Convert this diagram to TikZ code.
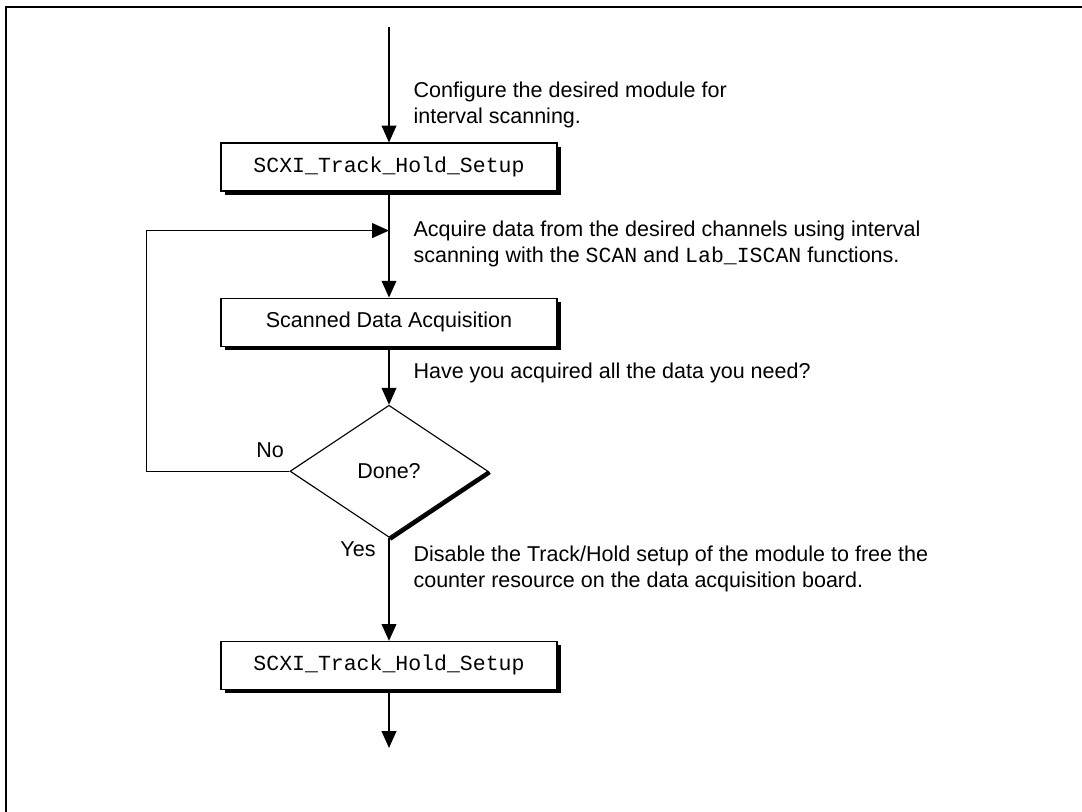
\documentclass[tikz,border=0pt]{standalone}
\usepackage{fontspec}
\setmainfont{Liberation Sans}
\setmonofont{Liberation Mono}
\usepackage{tikz}
\usetikzlibrary{positioning,arrows.meta,calc,shapes.geometric,shadows}

\begin{document}
\begin{tikzpicture}[
  fnbox/.style={draw, line width=0.8pt, fill=white, minimum width=8.4cm, minimum height=1.2cm, inner sep=0pt,
    font=\fontsize{15.3}{18.5}\selectfont, general shadow={fill=black, shadow xshift=0.09cm, shadow yshift=-0.09cm}},
  decision/.style={draw, diamond, aspect=1.5, line width=0.8pt, fill=white, minimum width=4.95cm, minimum height=3.3cm,
    inner sep=0pt, font=\fontsize{15.3}{18.5}\selectfont},
  note/.style={anchor=west, align=left, inner sep=0pt, font=\fontsize{15.3}{18.5}\selectfont},
  >={Triangle[length=0.42cm, width=0.37cm]}, line width=0.8pt]
\useasboundingbox (0,0) rectangle (27.05,-20.3);
% frame
\draw[line width=2pt] (0.15,-20.3) |- (27.05,-0.175);
% flow
\node[fnbox] (setup) at (9.725,-4.175) {\texttt{SCXI\_Track\_Hold\_Setup}};
\node[fnbox, below=2.65cm of setup] (scan) {Scanned Data Acquisition};
\node[decision, below=1.45cm of scan] (done) {Done?};
\node[fnbox, below=2.575cm of done] (reset) {\texttt{SCXI\_Track\_Hold\_Setup}};
\coordinate[above=2.875cm of setup] (in);
\coordinate[below=0.975cm of setup] (join);
\coordinate[below=1.45cm of reset] (out);
\draw[->] (in) -- (setup);
\draw[->] (setup) -- (scan);
\draw[->] (scan) -- (done);
\draw[->] (done) -- (reset);
\draw[->] (reset) -- (out);
\draw[->] (done.west) -- ++(-3.575,0) |- (join);
\draw[line width=2.6pt] ([shift={(0.03,-0.03)}]done.east) -- ([shift={(0.03,-0.03)}]done.south);
% labels
\node[note] (n1) at (10.325,-2.625) {Configure the desired module for\\interval scanning.};
\node[note] (n2) at (10.325,-6.09) {Acquire data from the desired channels using interval\\scanning with the \texttt{SCAN} and \texttt{Lab\_ISCAN} functions.};
\node[note] (n3) at (10.325,-9.325) {Have you acquired all the data you need?};
\node[note] (n4) at (10.325,-14.225) {Disable the Track/Hold setup of the module to free the\\counter resource on the data acquisition board.};
\node[note, anchor=center] (no) at (6.75,-11.25) {No};
\node[note, anchor=center] (yes) at (8.95,-13.725) {Yes};
\end{tikzpicture}
\end{document}
